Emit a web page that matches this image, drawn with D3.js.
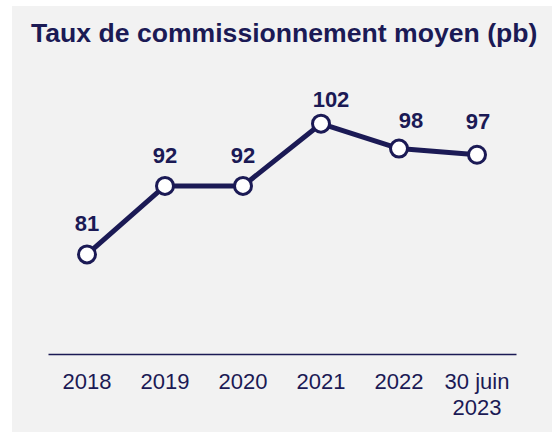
<!DOCTYPE html>
<html>
<head>
<meta charset="utf-8">
<script src="https://cdn.jsdelivr.net/npm/d3@7"></script>
<style>
  html, body { margin: 0; padding: 0; background: #ffffff; }
  svg { display: block; font-family: "Liberation Sans", Arial, sans-serif; }
</style>
</head>
<body>
<svg width="552" height="432"></svg>
<script>
const categories = ["2018", "2019", "2020", "2021", "2022", "30 juin 2023"];
const rates = [81, 92, 92, 102, 98, 97];   // taux moyen, points de base
const title = "Taux de commissionnement moyen (pb)";

// small manual moves of the value labels, like in the original
const labelNudge = { "2021": [10, 6], "2022": [12, 2], "30 juin 2023": [1, -3] };

const navy = "#1b1a55";

const svg = d3.select("svg"),
	width = +svg.attr("width"),
	height = +svg.attr("height");

const margin = { top: 105, bottom: 354, left: 48, right: 516 };

svg.append("rect")
	.attr("x", 12).attr("y", 6)
	.attr("width", width - 12).attr("height", height - 6)
	.attr("fill", "#f2f2f2");

svg.append("text")
	.attr("x", 31).attr("y", 42)
	.attr("fill", navy)
	.attr("font-size", "26.6px")
	.attr("font-weight", "bold")
	.text(title);

const x = d3.scaleBand()
	.domain(categories)
	.range([margin.left, margin.right])
	.padding(0);

const y = d3.scaleLinear()
	.domain([65, 105])
	.range([margin.bottom, margin.top]);

const data = categories.map((c, i) => ({ name: c, value: rates[i] }));
const cx = d => x(d.name) + x.bandwidth() / 2;

// x axis
const xAxis = svg.append("g")
	.attr("transform", `translate(0, ${margin.bottom})`)
	.call(d3.axisBottom(x).tickSize(0).tickSizeOuter(0).tickFormat(""));
xAxis.select(".domain").attr("stroke", navy).attr("stroke-width", 1.6);
xAxis.selectAll(".tick text").remove();
xAxis.selectAll(".tick").each(function (c) {
	const m = c.match(/^(.*) (\d{4})$/);
	const lines = m ? [m[1], m[2]] : [c];
	const t = d3.select(this).append("text")
		.attr("fill", navy)
		.attr("font-size", "22px")
		.attr("text-anchor", "middle");
	lines.forEach((l, k) => t.append("tspan").attr("x", 0).attr("y", 35 + k * 26).text(l));
});

// line
const line = d3.line().x(cx).y(d => y(d.value));
svg.append("path")
	.datum(data)
	.attr("d", line)
	.attr("fill", "none")
	.attr("stroke", navy)
	.attr("stroke-width", 5)
	.attr("stroke-linejoin", "round");

svg.append("g")
	.selectAll("circle")
	.data(data)
	.join("circle")
	.attr("cx", cx)
	.attr("cy", d => y(d.value))
	.attr("r", 8.5)
	.attr("fill", "#ffffff")
	.attr("stroke", navy)
	.attr("stroke-width", 3);

svg.append("g")
	.selectAll("text")
	.data(data)
	.join("text")
	.attr("x", d => cx(d) + (labelNudge[d.name] ? labelNudge[d.name][0] : 0))
	.attr("y", d => y(d.value) - 23 + (labelNudge[d.name] ? labelNudge[d.name][1] : 0))
	.attr("text-anchor", "middle")
	.attr("fill", navy)
	.attr("font-size", "22px")
	.attr("font-weight", "bold")
	.text(d => d.value);
</script>
</body>
</html>
